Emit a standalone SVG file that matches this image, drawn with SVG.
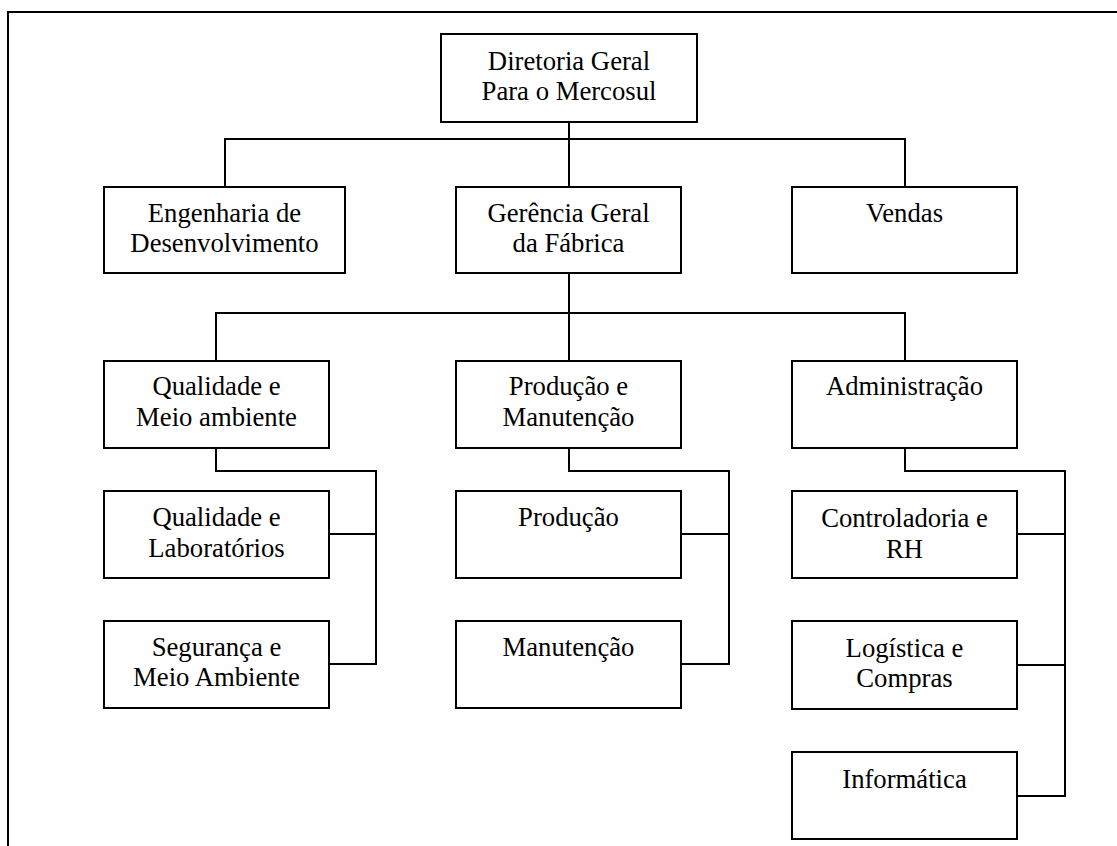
<svg xmlns="http://www.w3.org/2000/svg" width="1117" height="846" viewBox="0 0 1117 846">
  <style>
    .box { fill: #ffffff; stroke: #000000; stroke-width: 2; }
    .link { fill: none; stroke: #000000; stroke-width: 2; }
    .frame { fill: none; stroke: #000000; stroke-width: 2; }
    text { font-family: "Liberation Serif", "Times New Roman", serif; font-size: 26.7px; fill: #000000; text-anchor: middle; }
  </style>
  <rect x="0" y="0" width="1117" height="846" fill="#ffffff"/>
  <path class="frame" d="M8,846 V12 H1117"/>

  <!-- connectors -->
  <g id="connectors">
    <path class="link" d="M569,122 V187"/>
    <path class="link" d="M225,187 V139 H905 V187"/>
    <path class="link" d="M569,273 V361"/>
    <path class="link" d="M216,361 V313 H905 V361"/>
    <path class="link" d="M216,448 V471 H376 V664 H329"/>
    <path class="link" d="M329,534 H376"/>
    <path class="link" d="M569,448 V471 H729 V664 H681"/>
    <path class="link" d="M681,534 H729"/>
    <path class="link" d="M905,448 V471 H1065 V796 H1017"/>
    <path class="link" d="M1017,534 H1065"/>
    <path class="link" d="M1017,665 H1065"/>
  </g>

  <!-- nodes -->
  <g id="diretoria">
    <rect class="box" x="441" y="34" width="256" height="88"/>
    <text x="569" y="70">Diretoria Geral</text>
    <text x="569" y="100">Para o Mercosul</text>
  </g>
  <g id="engenharia">
    <rect class="box" x="104" y="187" width="241" height="86"/>
    <text x="224.5" y="222">Engenharia de</text>
    <text x="224.5" y="252">Desenvolvimento</text>
  </g>
  <g id="gerencia">
    <rect class="box" x="456" y="187" width="225" height="86"/>
    <text x="568.5" y="222">Gerência Geral</text>
    <text x="568.5" y="252">da Fábrica</text>
  </g>
  <g id="vendas">
    <rect class="box" x="792" y="187" width="225" height="86"/>
    <text x="904.5" y="222">Vendas</text>
  </g>
  <g id="qualidade-meio">
    <rect class="box" x="104" y="361" width="225" height="87"/>
    <text x="216.5" y="395">Qualidade e</text>
    <text x="216.5" y="426">Meio ambiente</text>
  </g>
  <g id="producao-manutencao">
    <rect class="box" x="456" y="361" width="225" height="87"/>
    <text x="568.5" y="395">Produção e</text>
    <text x="568.5" y="426">Manutenção</text>
  </g>
  <g id="administracao">
    <rect class="box" x="792" y="361" width="225" height="87"/>
    <text x="904.5" y="395">Administração</text>
  </g>
  <g id="qualidade-lab">
    <rect class="box" x="104" y="491" width="225" height="87"/>
    <text x="216.5" y="526">Qualidade e</text>
    <text x="216.5" y="557">Laboratórios</text>
  </g>
  <g id="seguranca">
    <rect class="box" x="104" y="621" width="225" height="87"/>
    <text x="216.5" y="656">Segurança e</text>
    <text x="216.5" y="686">Meio Ambiente</text>
  </g>
  <g id="producao">
    <rect class="box" x="456" y="491" width="225" height="87"/>
    <text x="568.5" y="526">Produção</text>
  </g>
  <g id="manutencao">
    <rect class="box" x="456" y="621" width="225" height="87"/>
    <text x="568.5" y="656">Manutenção</text>
  </g>
  <g id="controladoria">
    <rect class="box" x="792" y="491" width="225" height="87"/>
    <text x="904.5" y="527">Controladoria e</text>
    <text x="904.5" y="558">RH</text>
  </g>
  <g id="logistica">
    <rect class="box" x="792" y="621" width="225" height="88"/>
    <text x="904.5" y="657">Logística e</text>
    <text x="904.5" y="687">Compras</text>
  </g>
  <g id="informatica">
    <rect class="box" x="792" y="752" width="225" height="87"/>
    <text x="904.5" y="788">Informática</text>
  </g>
</svg>
